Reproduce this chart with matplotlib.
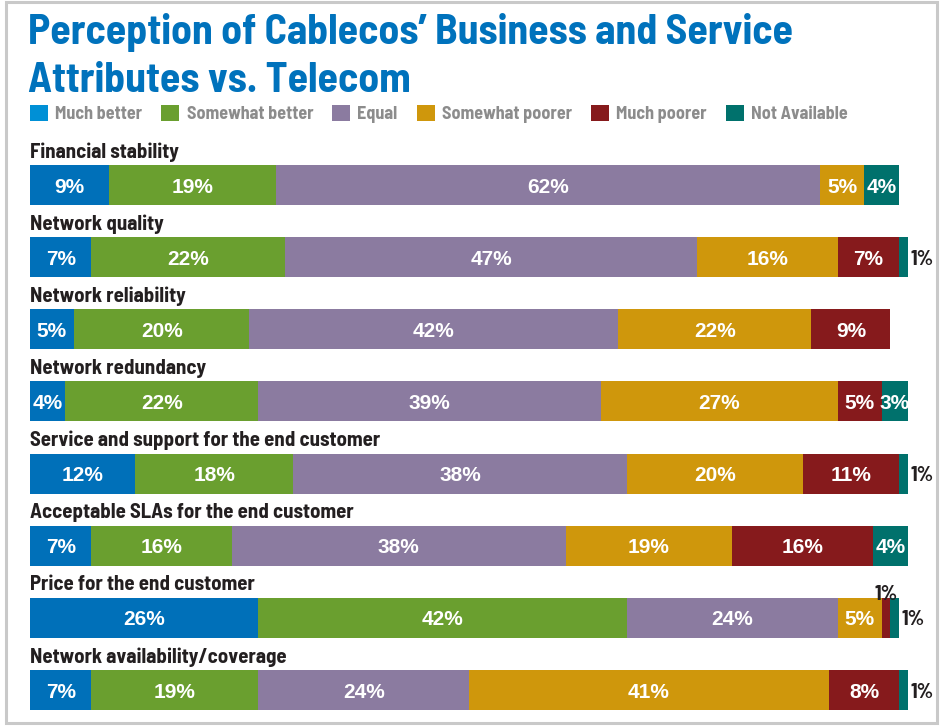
import numpy as np
import matplotlib.pyplot as plt
from matplotlib.patches import Patch, Rectangle

# survey rows, top to bottom
attributes = [
    "Financial stability",
    "Network quality",
    "Network reliability",
    "Network redundancy",
    "Service and support for the end customer",
    "Acceptable SLAs for the end customer",
    "Price for the end customer",
    "Network availability/coverage",
]
answers = ["Much better", "Somewhat better", "Equal", "Somewhat poorer",
           "Much poorer", "Not Available"]

much_better = [9, 7, 5, 4, 12, 7, 26, 7]
somewhat_better = [19, 22, 20, 22, 18, 16, 42, 19]
equal = [62, 47, 42, 39, 38, 38, 24, 24]
somewhat_poorer = [5, 16, 22, 27, 20, 19, 5, 41]
much_poorer = [0, 7, 9, 5, 11, 16, 1, 8]
not_available = [4, 1, 0, 3, 1, 4, 1, 1]

colors = ["#0070b9", "#6a9f2f", "#8b7ba0", "#cf970c", "#861a1c", "#00716c"]
legend_colors = ["#0090d6", "#6a9f2f", "#8b7ba0", "#cf970c", "#861a1c", "#00716c"]

# condensed face for headings, plain bold face for the bar values
narrow = dict(family=["Barlow Semi Condensed", "DejaVu Sans"],
              fontstretch="condensed", fontweight="bold")
plain = dict(family=["Liberation Sans", "DejaVu Sans"], fontweight="bold")

W, H = 944, 726
fig = plt.figure(figsize=(W / 100, H / 100), dpi=100)

# axes: x in percent, 0..100 spans 30px..908px
top_px = 140
ax = fig.add_axes([30 / W, 0, 878 / W, (H - top_px) / H])
step = 72.14
first = 185
ax.set_xlim(0, 100)
ax.set_ylim((H - first) / step, (top_px - first) / step)
ax.axis("off")

series = [much_better, somewhat_better, equal, somewhat_poorer, much_poorer, not_available]
y = np.arange(len(attributes))
left = np.zeros(len(attributes))
for k, vals in enumerate(series):
    vals = np.array(vals, dtype=float)
    ax.barh(y, vals, left=left, height=0.555, color=colors[k], linewidth=0)
    for i, v in enumerate(vals):
        if v == 0:
            continue
        cx = left[i] + v / 2
        if v >= 3:
            ax.text(cx, y[i] + 0.105, f"{int(v)}%", ha="center", va="baseline",
                    color="white", fontsize=15, **plain)
        else:
            # thin slices get a dark label outside the bar
            last = all(s[i] == 0 for s in series[k + 1:])
            if last:
                ax.text(left[i] + v + 0.3, y[i] + 0.105, f"{int(v)}%", ha="left",
                        va="baseline", color="#231f20", fontsize=15, **narrow)
            else:
                ax.text(cx, y[i] - 0.25, f"{int(v)}%", ha="center",
                        va="baseline", color="#231f20", fontsize=15, **narrow)
    left += vals

for i, name in enumerate(attributes):
    ax.text(0, y[i] - 0.38, name, ha="left", va="baseline", color="#231f20",
            fontsize=15, **narrow)

fig.text(28 / W, 1 - 44 / H, "Perception of Cablecos\u2019 Business and Service",
         color="#0072bc", fontsize=30, ha="left", va="baseline", **narrow)
fig.text(28 / W, 1 - 92 / H, "Attributes vs. Telecom",
         color="#0072bc", fontsize=30, ha="left", va="baseline", **narrow)

handles = [Patch(facecolor=c, edgecolor="none") for c in legend_colors]
leg = fig.legend(handles, answers, loc="center left", ncol=6,
                 bbox_to_anchor=(30 / W, 1 - 114 / H), frameon=False,
                 handlelength=1.0, handleheight=1.0, handletextpad=0.4,
                 columnspacing=1.05, borderaxespad=0, borderpad=0,
                 prop={"family": narrow["family"], "stretch": "condensed",
                       "weight": "bold", "size": 13})
for t in leg.get_texts():
    t.set_color("#8c8c8c")

fig.patches.append(Rectangle((6 / W, 3 / H), 931 / W, 721 / H, transform=fig.transFigure,
                             fill=False, edgecolor="#c9c9c9", linewidth=2.2))

fig.savefig("out.png", dpi=100)
